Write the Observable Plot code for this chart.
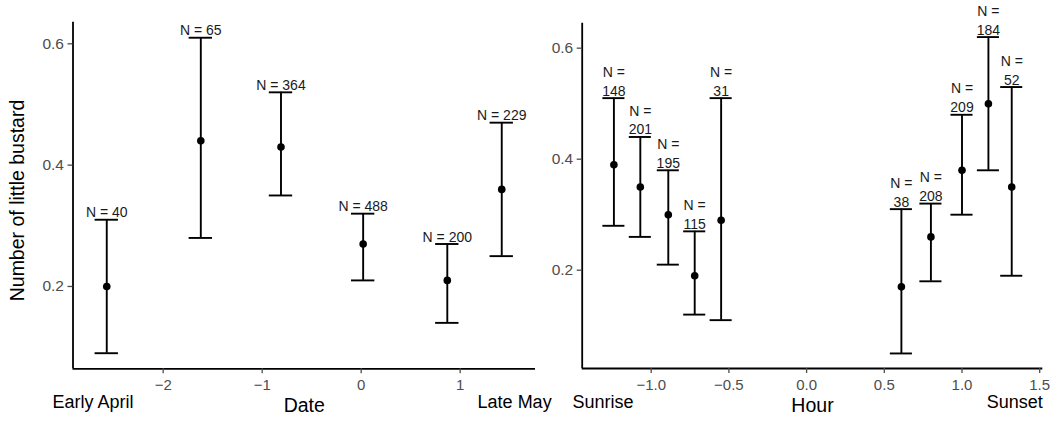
<!DOCTYPE html>
<html>
<head>
<meta charset="utf-8">
<script src="https://cdn.jsdelivr.net/npm/d3@7"></script>
<script src="https://cdn.jsdelivr.net/npm/@observablehq/plot@0.6"></script>
<style>
  html, body { margin: 0; padding: 0; background: #fff; }
  #wrap { display: flex; flex-direction: row; width: 1057px; height: 422px; background: #fff; }
  #wrap svg { display: block; flex: none; overflow: visible; }
</style>
</head>
<body>
<div id="wrap"></div>
<script>
// ---- Data ----
const yTicks = [0.2, 0.4, 0.6];
const dateTicks = [-2, -1, 0, 1];
const hourTicks = [-1.0, -0.5, 0.0, 0.5, 1.0, 1.5];

const dateX     = [-2.57, -1.62, -0.81, 0.02, 0.87, 1.42];
const dateMean  = [0.20, 0.44, 0.43, 0.27, 0.21, 0.36];
const dateLower = [0.09, 0.28, 0.35, 0.21, 0.14, 0.25];
const dateUpper = [0.31, 0.61, 0.52, 0.32, 0.27, 0.47];
const dateN     = [40, 65, 364, 488, 200, 229];

const hourX     = [-1.24, -1.07, -0.89, -0.72, -0.55, 0.61, 0.80, 1.00, 1.17, 1.32];
const hourMean  = [0.39, 0.35, 0.30, 0.19, 0.29, 0.17, 0.26, 0.38, 0.50, 0.35];
const hourLower = [0.28, 0.26, 0.21, 0.12, 0.11, 0.05, 0.18, 0.30, 0.38, 0.19];
const hourUpper = [0.51, 0.44, 0.38, 0.27, 0.51, 0.31, 0.32, 0.48, 0.62, 0.53];
const hourN     = [148, 201, 195, 115, 31, 38, 208, 209, 184, 52];

const dateEndLabels = ["Early April", "Late May"];
const dateEndX      = [-2.71, 1.55];
const hourEndLabels = ["Sunrise", "Sunset"];
const hourEndX      = [-1.31, 1.34];

// ---- Build tables ----
const dateData = dateX.map((x, i) => ({x, mean: dateMean[i], lo: dateLower[i], hi: dateUpper[i], n: dateN[i]}));
const hourData = hourX.map((x, i) => ({x, mean: hourMean[i], lo: hourLower[i], hi: hourUpper[i], n: hourN[i]}));
const dateEnds = dateEndLabels.map((label, i) => ({label, x: dateEndX[i]}));
const hourEnds = hourEndLabels.map((label, i) => ({label, x: hourEndX[i]}));

const FONT = "'Liberation Sans', Arial, Helvetica, sans-serif";

function panel({data, xDomain, yDomain, xTicks, xFormat, capHalf, width, margins, title, ylabel, ends, labelText, labelLineHeight}) {
  const marks = [
    // axis lines
    Plot.ruleX([xDomain[0]], {stroke: "black", strokeWidth: 1.8}),
    Plot.ruleY([yDomain[0]], {stroke: "black", strokeWidth: 1.8}),
    Plot.axisY(yTicks, {tickSize: 5, tickPadding: 4, fontSize: 15.5, label: null, tickFormat: d3.format(".1f"), strokeWidth: 1.3}),
    Plot.axisX(xTicks, {tickSize: 5, tickPadding: 6, fontSize: 15, label: null, tickFormat: xFormat, strokeWidth: 1.3}),
    // error bars
    Plot.ruleX(data, {x: "x", y1: "lo", y2: "hi", stroke: "black", strokeWidth: 1.9}),
    Plot.ruleY(data, {y: "hi", x1: d => d.x - capHalf, x2: d => d.x + capHalf, stroke: "black", strokeWidth: 1.9}),
    Plot.ruleY(data, {y: "lo", x1: d => d.x - capHalf, x2: d => d.x + capHalf, stroke: "black", strokeWidth: 1.9}),
    Plot.dot(data, {x: "x", y: "mean", r: 3.8, fill: "black", stroke: "none"}),
    // N labels
    Plot.text(data, {x: "x", y: "hi", text: labelText, lineAnchor: "bottom", dy: -2.5, fontSize: 14, fill: "#1a1a1a", lineHeight: labelLineHeight}),
    // end annotations
    Plot.text(ends, {x: "x", text: "label", frameAnchor: "bottom", dy: 39.5, fontSize: 18, fill: "black"}),
    // x title
    Plot.text([title], {frameAnchor: "bottom", dy: 43.5, fontSize: 19.5, fill: "black"})
  ];
  if (ylabel) {
    marks.push(Plot.text([ylabel], {frameAnchor: "left", textAnchor: "middle", dx: -55, dy: 5, rotate: -90, fontSize: 19.5, fill: "black"}));
  }
  return Plot.plot({
    width,
    height: 422,
    ...margins,
    x: {domain: xDomain},
    y: {domain: yDomain},
    style: {fontFamily: FONT, color: "#4d4d4d", background: "transparent", overflow: "visible"},
    marks
  });
}

const left = panel({
  data: dateData,
  xDomain: [-2.911, 1.761],
  yDomain: [0.0643, 0.6356],
  xTicks: dateTicks,
  xFormat: d3.format("d"),
  capHalf: 0.118,
  width: 540,
  margins: {marginLeft: 72.5, marginRight: 5, marginTop: 21.7, marginBottom: 53.7},
  title: "Date",
  ylabel: "Number of little bustard",
  ends: dateEnds,
  labelText: d => `N = ${d.n}`,
  labelLineHeight: 1
});

const right = panel({
  data: hourData,
  xDomain: [-1.444, 1.52],
  yDomain: [0.0229, 0.645],
  xTicks: hourTicks,
  xFormat: d3.format(".1f"),
  capHalf: 0.071,
  width: 517,
  margins: {marginLeft: 41.7, marginRight: 14.7, marginTop: 22.7, marginBottom: 54},
  title: "Hour",
  ylabel: null,
  ends: hourEnds,
  labelText: d => `N =\n${d.n}`,
  labelLineHeight: 1.35
});

const wrap = document.getElementById("wrap");
wrap.appendChild(left);
wrap.appendChild(right);
</script>
</body>
</html>
